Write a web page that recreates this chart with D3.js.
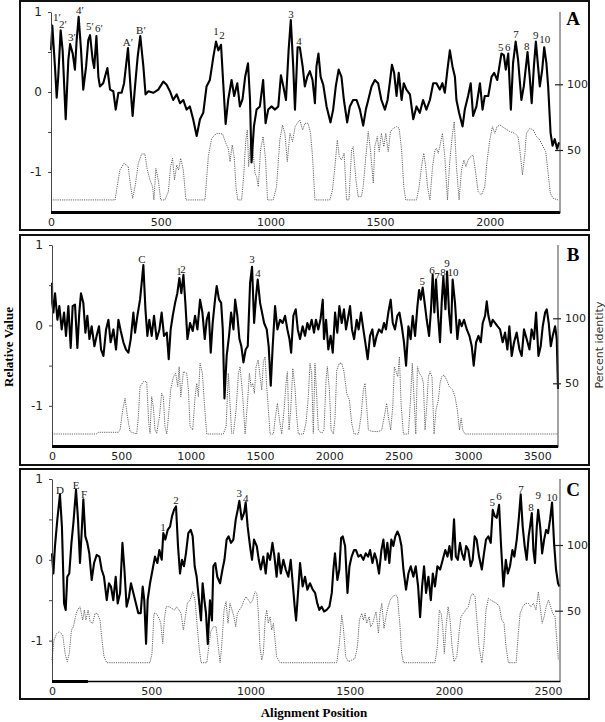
<!DOCTYPE html>
<html>
<head>
<meta charset="utf-8">
<script src="https://cdn.jsdelivr.net/npm/d3@7"></script>
<style>
  body { margin: 0; background: #fff; }
  svg { display: block; }
</style>
</head>
<body>
<div id="chart"></div>
<script>
// relative value (solid) and percent identity (dotted), [alignment position, value]
const relA = [[0,0.52],[6,0.83],[18,0.32],[26,-0.07],[33,0.19],[44,0.77],[53,0.52],[67,-0.34],[79,0.40],[87,0.60],[99,0.48],[109,0.28],[117,0.65],[126,0.94],[137,0.52],[147,0.03],[160,0.32],[170,0.65],[178,0.71],[190,0.40],[197,0.30],[207,0.70],[216,0.19],[223,0.07],[238,0.11],[257,0.30],[269,0.03],[284,0.01],[295,-0.22],[307,-0.01],[322,-0.01],[333,0.11],[351,0.55],[363,0.03],[372,-0.30],[383,0.07],[395,0.44],[407,0.70],[421,0.32],[431,-0.03],[444,0.01],[466,-0.01],[489,0.03],[512,0.13],[527,0.09],[542,0.01],[557,-0.10],[573,-0.03],[588,-0.14],[603,-0.10],[618,-0.22],[633,-0.18],[648,-0.34],[664,-0.55],[679,-0.34],[694,-0.26],[709,0.07],[724,0.15],[740,0.44],[752,0.63],[763,0.52],[775,0.59],[785,0.11],[796,-0.40],[808,-0.09],[823,0.15],[835,-0.05],[849,0.11],[861,-0.18],[873,-0.09],[885,0.19],[898,0.36],[907,-0.09],[914,-0.88],[925,-0.43],[937,-0.22],[952,-0.18],[967,0.15],[978,-0.39],[990,-0.22],[1005,-0.18],[1021,-0.22],[1036,-0.18],[1048,0.21],[1059,0.07],[1071,-0.10],[1083,0.52],[1093,0.90],[1104,0.32],[1112,-0.22],[1124,0.56],[1134,0.56],[1147,0.32],[1157,0.07],[1168,0.19],[1180,0.26],[1192,0.15],[1203,-0.14],[1210,0.32],[1219,0.48],[1229,0.19],[1241,0.09],[1256,-0.18],[1274,-0.38],[1286,-0.22],[1298,0.07],[1311,0.28],[1324,0.19],[1335,-0.10],[1350,-0.38],[1362,-0.18],[1377,-0.10],[1393,-0.10],[1408,-0.22],[1423,-0.42],[1435,-0.22],[1446,-0.10],[1461,0.07],[1476,0.15],[1491,0.11],[1506,-0.10],[1522,-0.22],[1534,-0.10],[1544,0.11],[1554,0.34],[1564,0.24],[1575,-0.05],[1585,0.24],[1598,-0.10],[1608,0.11],[1620,0.03],[1636,-0.03],[1651,-0.34],[1666,-0.18],[1681,-0.26],[1696,-0.10],[1711,-0.22],[1727,-0.10],[1742,0.11],[1757,0.11],[1772,0.03],[1784,0.11],[1795,-0.01],[1807,0.28],[1818,0.52],[1830,0.32],[1841,0.19],[1848,-0.10],[1860,-0.26],[1876,-0.43],[1886,-0.22],[1901,-0.05],[1913,0.11],[1924,-0.30],[1939,-0.18],[1955,0.11],[1967,-0.22],[1977,-0.05],[1993,-0.05],[2008,0.19],[2020,0.24],[2034,0.15],[2046,0.36],[2053,0.48],[2064,0.46],[2073,0.28],[2084,0.48],[2096,-0.22],[2106,0.36],[2118,0.63],[2129,0.40],[2144,-0.10],[2155,0.07],[2172,0.50],[2182,0.19],[2191,-0.14],[2201,0.32],[2210,0.63],[2220,0.32],[2228,0.07],[2239,0.28],[2248,0.56],[2258,0.36],[2266,0.07],[2277,-0.51],[2286,-0.67],[2296,-0.59],[2307,-0.71],[2316,-0.63]]

const pidA = [[0,12],[292,12],[299,19.5],[314,34.8],[333,39.9],[352,37.3],[363,22.1],[372,13.2],[383,22.1],[398,39.9],[413,47],[428,47],[439,34.8],[451,27.2],[463,22.1],[469,12],[478,36],[489,27.2],[500,12],[519,12],[535,18.3],[545,37.3],[554,43.7],[563,27.2],[573,38.6],[582,34.8],[591,43.7],[603,34.8],[615,12],[702,12],[717,44.9],[732,58.9],[755,62.7],[782,62.2],[797,55.1],[808,51.3],[816,41.1],[826,53.8],[835,44.9],[843,22.1],[851,12],[869,12],[879,32.2],[888,57.6],[895,65.2],[901,37.3],[910,57.6],[919,52.5],[930,32.2],[937,29.7],[945,22.1],[955,50],[967,60.2],[978,42.4],[987,12],[1013,12],[1028,22.1],[1043,57.6],[1055,69],[1066,62.7],[1077,41.1],[1089,62.7],[1101,56.3],[1113,67.8],[1127,71.6],[1134,72.8],[1147,65.2],[1157,70.3],[1172,70.3],[1183,62.7],[1192,44.9],[1203,12],[1271,12],[1283,19.5],[1294,37.3],[1305,57.6],[1314,44.9],[1324,42.4],[1336,47.5],[1347,12],[1358,12],[1370,50],[1377,52.5],[1390,27.2],[1400,14.5],[1415,14.5],[1423,22.1],[1435,44.9],[1446,64],[1456,50],[1469,24.6],[1476,52.5],[1487,60.2],[1496,48.7],[1506,62.7],[1517,52.5],[1526,62.7],[1537,48.7],[1547,64],[1560,66.5],[1575,67.8],[1587,66.5],[1598,50],[1608,22.1],[1617,12],[1666,12],[1678,22.1],[1689,37.3],[1699,47.5],[1708,37.3],[1716,22.1],[1727,12],[1739,37.3],[1750,50],[1757,51.3],[1765,47.5],[1772,52.5],[1784,62.7],[1795,44.9],[1807,12],[1818,42.4],[1830,62.7],[1838,71.6],[1848,37.3],[1860,12],[1871,34.8],[1882,42.4],[1891,37.3],[1901,42.4],[1912,44.9],[1924,46.2],[1936,32.2],[1947,18.3],[1962,15.7],[1977,22.1],[1988,42.4],[2000,57.6],[2012,67.8],[2023,62.7],[2033,67.8],[2046,69],[2068,66.5],[2091,64],[2114,62.7],[2129,60.2],[2137,50],[2149,31],[2160,47.5],[2167,62.7],[2182,66.5],[2198,65.2],[2213,60.2],[2228,57.6],[2243,52.5],[2255,48.7],[2266,32.2],[2276,17],[2289,13.2],[2311,12]]

const relB = [[0,0.53],[2,0.28],[10,0.16],[22,0.40],[39,0.07],[53,0.24],[70,-0.05],[87,0.16],[101,-0.13],[118,0.24],[135,-0.28],[149,0.24],[166,0.26],[183,-0.28],[197,0.16],[209,0.40],[226,0.28],[241,-0.09],[255,0.12],[270,-0.17],[286,-0.01],[306,-0.26],[322,-0.13],[339,-0.01],[354,-0.30],[371,-0.38],[390,-0.05],[407,0.07],[423,-0.21],[443,-0.05],[462,-0.30],[479,0.07],[496,-0.07],[515,-0.21],[534,-0.30],[551,-0.34],[568,-0.17],[587,0.16],[599,-0.09],[616,0.12],[635,0.32],[647,0.53],[659,0.75],[674,0.20],[688,-0.13],[702,0.07],[719,-0.13],[736,0.12],[755,-0.17],[775,-0.05],[791,0.16],[808,-0.13],[828,-0.09],[842,-0.42],[856,-0.05],[871,0.12],[888,0.28],[904,0.40],[919,0.59],[933,0.40],[948,0.63],[962,0.28],[977,-0.17],[996,0.03],[1015,-0.07],[1032,0.12],[1049,-0.05],[1068,0.32],[1085,0.16],[1102,-0.17],[1116,0.07],[1131,0.16],[1145,-0.34],[1159,0.03],[1176,0.32],[1188,0.49],[1205,0.32],[1220,0.28],[1232,-0.05],[1244,-0.91],[1260,-0.38],[1277,-0.13],[1292,0.16],[1309,-0.05],[1321,0.32],[1337,0.12],[1352,-0.17],[1366,-0.26],[1381,-0.46],[1397,-0.30],[1412,-0.26],[1429,0.53],[1443,0.73],[1458,0.03],[1472,0.36],[1484,0.57],[1501,0.28],[1515,0.16],[1530,0.03],[1549,-0.05],[1563,-0.26],[1578,-0.75],[1592,-0.26],[1609,0.24],[1626,-0.05],[1645,0.07],[1664,0.03],[1681,0.12],[1698,-0.05],[1713,-0.17],[1725,-0.34],[1741,0.12],[1758,0.20],[1773,-0.05],[1789,-0.17],[1808,-0.01],[1825,-0.13],[1842,0.03],[1856,-0.05],[1873,0.07],[1890,-0.09],[1904,0.07],[1921,-0.05],[1938,0.09],[1953,0.32],[1962,-0.17],[1977,0.07],[1993,-0.30],[2010,-0.13],[2025,-0.34],[2042,0.16],[2058,-0.09],[2073,0.24],[2090,0.03],[2106,0.20],[2121,-0.05],[2138,0.12],[2150,0.24],[2164,-0.05],[2179,-0.17],[2198,0.07],[2212,-0.05],[2229,0.16],[2246,-0.05],[2260,-0.21],[2277,-0.42],[2294,-0.13],[2311,-0.05],[2325,-0.26],[2342,-0.13],[2359,-0.05],[2378,-0.09],[2395,0.03],[2409,-0.05],[2426,0.16],[2443,0.32],[2458,0.03],[2474,-0.05],[2491,0.12],[2506,0.16],[2523,-0.01],[2539,-0.21],[2554,-0.50],[2571,-0.01],[2587,-0.17],[2602,0.12],[2619,-0.13],[2636,0.24],[2648,0.44],[2660,0.32],[2674,0.47],[2688,0.28],[2703,0.07],[2720,-0.13],[2734,0.20],[2746,0.63],[2758,0.16],[2770,0.57],[2785,0.12],[2799,-0.21],[2811,0.28],[2823,0.61],[2838,0.20],[2850,0.67],[2864,0.16],[2878,-0.09],[2890,0.57],[2907,0.28],[2924,-0.17],[2939,0.07],[2955,-0.01],[2972,0.07],[2992,-0.05],[3011,-0.13],[3028,-0.26],[3042,-0.50],[3059,-0.21],[3076,-0.13],[3093,-0.21],[3107,0.03],[3124,0.12],[3136,0.30],[3148,0.12],[3165,-0.01],[3179,0.07],[3196,0.03],[3213,-0.01],[3232,-0.05],[3251,-0.21],[3268,-0.09],[3285,-0.30],[3299,-0.01],[3316,-0.38],[3333,-0.21],[3352,-0.09],[3372,-0.30],[3388,-0.38],[3405,-0.05],[3424,-0.17],[3444,-0.30],[3460,-0.05],[3477,-0.17],[3492,0.16],[3509,-0.38],[3525,-0.26],[3540,-0.01],[3557,0.16],[3569,0.20],[3583,0.03],[3598,-0.26],[3612,-0.13],[3629,-0.01],[3641,-0.17],[3650,-0.79]]

const pidB = [[0,11],[322,11],[334,12.3],[479,12.3],[491,14.1],[510,29.5],[527,38.5],[544,24.4],[563,12.8],[611,11],[623,24.4],[635,47.4],[659,51.3],[683,51.3],[698,19.2],[707,11.5],[719,39.7],[731,32.1],[743,14.1],[755,11.5],[775,24.4],[791,42.3],[803,39.7],[815,16.7],[828,11],[840,24.4],[856,44.9],[876,55.1],[892,57.7],[907,47.4],[917,62.8],[929,39.7],[948,59],[972,57.7],[984,44.9],[996,16.7],[1015,14.1],[1032,39.7],[1044,50],[1056,39.7],[1068,65.4],[1085,57.7],[1099,34.6],[1116,11],[1236,11],[1256,16.7],[1272,57.7],[1284,34.6],[1296,11.5],[1309,11.5],[1328,29.5],[1345,57.7],[1357,62.8],[1376,39.7],[1393,11],[1410,34.6],[1424,57.7],[1436,47.4],[1448,50],[1460,42.3],[1472,62.8],[1487,68],[1501,55.1],[1513,44.9],[1525,66.7],[1537,70.5],[1549,47.4],[1561,29.5],[1573,11],[1597,11],[1612,24.4],[1626,34.6],[1641,21.8],[1657,11],[1674,29.5],[1688,50],[1698,59],[1710,14.1],[1722,29.5],[1737,61.5],[1753,46.2],[1765,24.4],[1777,11],[1813,11],[1832,19.2],[1849,39.7],[1861,65.4],[1873,57.7],[1885,11.5],[1897,65.4],[1909,41],[1921,14.1],[1945,11.5],[1962,14.1],[1977,52.6],[1986,62.8],[2001,44.9],[2013,14.1],[2030,11],[2042,24.4],[2054,60.3],[2073,65.4],[2090,65.4],[2106,59],[2126,42.3],[2145,37.2],[2162,19.2],[2179,11],[2210,11],[2229,24.4],[2246,44.9],[2258,50],[2270,32.1],[2282,14.1],[2306,13.1],[2354,12.8],[2378,14.1],[2397,24.4],[2414,34.6],[2426,24.4],[2443,14.1],[2458,32.1],[2470,62.8],[2482,59],[2494,55.1],[2506,70.5],[2518,34.6],[2535,11],[2571,11],[2587,39.7],[2599,65.4],[2611,39.7],[2624,11],[2636,62.8],[2650,57.7],[2667,55.1],[2679,50],[2691,14.1],[2703,32.1],[2715,55.1],[2727,59],[2741,55.1],[2756,11],[2770,29.5],[2787,37.2],[2799,50],[2811,55.1],[2828,56.4],[2847,52.6],[2866,47.4],[2890,44.9],[2907,39.7],[2924,29.5],[2939,14.1],[2951,23.1],[2963,14.1],[2979,11],[3650,11]]

const relC = [[0,0.08],[2,0],[7,-0.17],[15,0.17],[27,0.50],[40,0.81],[50,0.41],[61,-0.54],[69,-0.62],[77,-0.21],[87,-0.17],[98,0.21],[108,0.46],[121,0.87],[131,0.50],[141,-0.04],[151,0.41],[158,0.75],[168,0.29],[178,0.21],[188,0.08],[200,-0.25],[212,-0.04],[225,0.06],[239,0.04],[250,-0.12],[262,-0.21],[276,-0.50],[287,-0.29],[297,-0.33],[309,-0.50],[321,-0.21],[331,-0.54],[343,-0.41],[355,0.21],[365,-0.12],[376,-0.58],[388,-0.46],[398,-0.29],[410,-0.41],[423,-0.54],[435,-0.66],[447,-0.66],[457,-0.33],[465,-0.50],[474,-1.04],[482,-0.50],[494,-0.29],[507,-0.12],[519,0.04],[531,-0.04],[541,0.12],[553,0],[561,0.33],[571,0.25],[583,0.37],[595,0.41],[605,0.54],[615,0.62],[625,0.66],[635,0.17],[645,-0.17],[655,0],[665,-0.08],[675,0.08],[687,0.33],[699,0.37],[709,0.29],[719,-0.08],[729,-0.21],[739,-0.46],[751,-0.75],[759,-0.29],[768,-0.50],[776,-0.66],[785,-1.04],[796,-0.50],[806,-0.75],[813,-0.08],[823,-0.04],[833,-0.21],[847,-0.29],[859,-0.12],[869,0],[880,0.25],[890,0.29],[902,0.21],[914,0.25],[926,0.50],[936,0.62],[944,0.73],[956,0.50],[968,0.58],[976,0.71],[986,0.41],[998,0.17],[1008,0],[1018,0.25],[1032,0.17],[1042,0],[1052,-0.12],[1065,0.04],[1077,-0.17],[1087,0.08],[1099,0],[1111,0.21],[1121,0.04],[1132,-0.21],[1142,0.08],[1153,-0.17],[1166,0],[1178,-0.12],[1191,-0.21],[1203,0],[1213,-0.29],[1223,-0.58],[1230,-0.75],[1242,-0.33],[1250,-0.04],[1263,-0.33],[1275,-0.21],[1287,-0.37],[1300,-0.29],[1314,-0.37],[1326,-0.41],[1337,-0.54],[1347,-0.62],[1359,-0.58],[1371,-0.64],[1384,-0.62],[1398,-0.58],[1410,-0.41],[1418,-0.12],[1426,0.08],[1438,-0.25],[1448,-0.12],[1457,0.27],[1465,0.29],[1477,0.17],[1489,-0.41],[1499,-0.08],[1510,0.04],[1522,0.12],[1532,0.12],[1544,0.04],[1556,0.06],[1569,0],[1581,0.08],[1593,0.04],[1603,0.12],[1615,-0.04],[1626,0.08],[1636,0],[1648,-0.17],[1660,0.12],[1670,0.25],[1680,0],[1690,0.21],[1700,-0.04],[1710,0.25],[1720,0.17],[1730,0.29],[1741,0.35],[1751,0.29],[1761,0.17],[1771,-0.12],[1784,-0.37],[1796,-0.17],[1808,-0.08],[1821,-0.21],[1833,-0.08],[1845,-0.33],[1855,-0.71],[1865,-0.33],[1875,-0.08],[1885,-0.41],[1897,-0.21],[1909,-0.50],[1919,-0.17],[1930,-0.33],[1942,-0.08],[1956,-0.12],[1969,0],[1982,0.12],[1993,0.04],[2003,0.17],[2014,0],[2026,0.50],[2035,0.04],[2045,0],[2056,0.21],[2066,0.08],[2077,0],[2087,0.17],[2098,0.12],[2110,-0.08],[2120,0],[2130,0.29],[2140,0.25],[2152,0.04],[2166,-0.12],[2177,0.08],[2187,0.25],[2199,0.29],[2211,0.21],[2221,0.62],[2231,0.54],[2241,0.52],[2253,0.68],[2263,0.17],[2275,-0.33],[2287,0],[2297,-0.17],[2308,-0.08],[2320,0.12],[2330,0.04],[2342,0.25],[2352,0.50],[2362,0.81],[2372,0.41],[2382,0.17],[2392,0],[2402,0.29],[2409,0.41],[2418,0.58],[2426,0.12],[2434,-0.04],[2443,0.41],[2450,0.62],[2460,0.41],[2470,0.08],[2480,0.25],[2490,0.37],[2500,0.33],[2510,0.50],[2520,0.71],[2530,0.21],[2540,-0.12],[2550,-0.29],[2557,-0.33]]

const pidC = [[0,12.4],[10,27.7],[24,32.7],[37,34],[54,31.5],[66,17.5],[77,11.2],[87,17.5],[98,35.3],[108,37.8],[118,45.4],[128,50.5],[141,53],[155,42.9],[163,50.5],[171,42.9],[182,50.5],[192,41.6],[205,40.4],[217,48],[229,48],[242,42.9],[252,27.7],[262,15],[276,10.4],[494,10.4],[504,17.5],[514,48],[524,48],[536,45.4],[548,40.4],[558,25.1],[566,42.9],[575,53],[591,53],[603,51.8],[617,50.5],[628,53],[640,50.5],[650,48],[662,35.3],[672,45.4],[682,55.6],[696,58.1],[709,64.5],[721,58.1],[729,42.9],[741,22.6],[751,10.4],[780,10.4],[790,22.6],[800,34],[813,37.8],[827,37.8],[838,22.6],[847,10.4],[855,22.6],[867,50.5],[877,56.9],[887,40.4],[897,55.6],[907,50.5],[917,45.4],[926,37.8],[934,48],[944,50.5],[956,53],[968,58.1],[978,60.7],[990,58.1],[1001,55.6],[1011,58.1],[1023,64.5],[1032,63.2],[1040,48],[1048,22.6],[1057,12.4],[1065,17.5],[1074,42.9],[1082,50.5],[1090,40.4],[1099,45.4],[1107,35.3],[1116,40.4],[1124,27.7],[1132,15],[1149,10.4],[1435,10.4],[1448,25.1],[1460,46.7],[1468,37.8],[1480,15],[1494,11.2],[1510,12.4],[1527,13.7],[1539,22.6],[1549,42.9],[1561,48],[1569,42.9],[1578,48],[1586,40.4],[1598,45.4],[1606,37.8],[1616,40.4],[1625,45.4],[1633,49.2],[1645,32.7],[1653,48],[1662,55.6],[1673,36.5],[1683,45.4],[1694,53],[1704,58.1],[1717,60.7],[1729,61.9],[1741,60.7],[1754,37.8],[1762,17.5],[1771,10.4],[1930,10.4],[1942,22.6],[1952,50.5],[1961,48],[1969,37.8],[1977,17.5],[1986,37.8],[1996,53],[2006,42.9],[2016,22.6],[2026,11.2],[2040,15],[2051,32.7],[2061,45.4],[2073,48],[2085,50.5],[2098,53],[2110,60.7],[2120,63.2],[2132,60.7],[2140,45.4],[2152,22.6],[2166,10.4],[2177,25.1],[2187,50.5],[2199,59.4],[2211,58.1],[2224,56.9],[2241,55.6],[2255,53],[2266,42.9],[2278,40.4],[2288,22.6],[2300,10.4],[2339,10.4],[2350,32.7],[2359,48],[2372,53],[2386,55.6],[2401,55.6],[2413,53],[2426,55.6],[2439,50.5],[2451,64.5],[2460,53],[2470,40.4],[2480,45.4],[2490,53],[2502,58.1],[2513,53],[2523,48],[2535,45.4],[2544,27.7],[2552,12.4]]

// peak labels: [text, position, relative value]
const labelsA = [['1′',27,0.89],['2′',55,0.80],['3′',96,0.64],['4′',132,0.975],['5′',178,0.775],['6′',219,0.75],['A′',351,0.575],['B′',410,0.725],['1',752,0.71],['2',779,0.66],['3',1094,0.925],['4',1130,0.59],['5',2050,0.51],['6',2082,0.51],['7',2119,0.675],['8',2169,0.525],['9',2210,0.66],['10',2251,0.61]]
const labelsB = [['C',649,0.78],['1',916,0.63],['2',945,0.65],['3',1443,0.78],['4',1486,0.60],['5',2670,0.50],['6',2742,0.64],['7',2778,0.56],['8',2821,0.61],['9',2850,0.73],['10',2893,0.61]]
const labelsC = [['D',40,0.81],['E',121,0.88],['F',161,0.76],['1',559,0.36],['2',625,0.69],['3',943,0.78],['4',976,0.72],['5',2218,0.67],['6',2253,0.74],['7',2364,0.83],['8',2414,0.60],['9',2450,0.75],['10',2520,0.73]]

const xTicksA = [0, 500, 1000, 1500, 2000]
const xTicksB = [0, 500, 1000, 1500, 2000, 2500, 3000, 3500]
const xTicksC = [0, 500, 1000, 1500, 2000, 2500]
const relTicks = [1, 0.5, 0, -0.5, -1]
const pidTicks = [50, 100]

const panels = [
  {name: 'A', rel: relA, pid: pidA, labels: labelsA, xTicks: xTicksA, xMax: 2320,
   box: [20, 1, 569, 229], x0: 51, x1: 560, yTop: 12, yBot: 212, y100: 84.3, y50: 150, thick: 2320, letterY: 25},
  {name: 'B', rel: relB, pid: pidB, labels: labelsB, xTicks: xTicksB, xMax: 3650,
   box: [20, 235, 569, 230], x0: 52, x1: 558, yTop: 245, yBot: 446, y100: 318.3, y50: 383.3, thick: 3650, letterY: 261},
  {name: 'C', rel: relC, pid: pidC, labels: labelsC, xTicks: xTicksC, xMax: 2560,
   box: [20, 469, 569, 230], x0: 52, x1: 560, yTop: 479, yBot: 681, y100: 545, y50: 610.7, thick: 181, letterY: 496}
]

function draw_panel(svg, p) {
  const g = svg.append('g').attr('class', 'panel')

  g.append('rect')
    .attr('x', p.box[0]).attr('y', p.box[1])
    .attr('width', p.box[2]).attr('height', p.box[3])
    .style('fill', 'none').style('stroke', '#111').style('stroke-width', 2)

  const x = d3.scaleLinear().domain([0, p.xMax]).range([p.x0, p.x1])
  const y = d3.scaleLinear().domain([-1.5, 1]).range([p.yBot, p.yTop])
  const yr = d3.scaleLinear().domain([50, 100]).range([p.y50, p.y100])

  // dotted percent identity
  g.append('path')
    .datum(p.pid)
    .attr('d', d3.line().x(d => x(d[0])).y(d => yr(d[1])))
    .style('fill', 'none').style('stroke', '#666')
    .style('stroke-width', 1).style('stroke-dasharray', '1.2,1')

  // relative value
  g.append('path')
    .datum(p.rel)
    .attr('d', d3.line().x(d => x(d[0])).y(d => y(d[1])))
    .style('fill', 'none').style('stroke', '#000')
    .style('stroke-width', 2.1).style('stroke-linejoin', 'round')

  // left axis
  const left = g.append('g')
    .attr('transform', `translate(${p.x0},0)`)
    .call(d3.axisLeft(y).tickValues(relTicks).tickSize(3).tickSizeOuter(0).tickPadding(6)
      .tickFormat(d => Number.isInteger(d) ? String(d) : ''))
  left.select('.domain').style('stroke', '#444')
  left.selectAll('line').style('stroke', '#444')
  left.selectAll('text').style('font-family', 'DejaVu Sans').style('font-size', '12px').style('fill', '#222')

  // bottom axis
  const bottom = g.append('g')
    .attr('transform', `translate(0,${p.yBot})`)
    .call(d3.axisBottom(x).tickValues(p.xTicks).tickSize(0).tickSizeOuter(0).tickPadding(6)
      .tickFormat(d => String(d)))
  bottom.select('.domain').style('stroke', '#000').style('stroke-width', 1.5)
  bottom.selectAll('text').style('font-family', 'DejaVu Sans').style('font-size', '11px').style('fill', '#222')
  g.append('line')
    .attr('x1', x(0)).attr('x2', x(p.thick))
    .attr('y1', p.yBot + 0.5).attr('y2', p.yBot + 0.5)
    .style('stroke', '#000').style('stroke-width', 3)

  // right axis
  g.append('line')
    .attr('x1', p.x1).attr('x2', p.x1)
    .attr('y1', p.yTop).attr('y2', p.yBot)
    .style('stroke', '#444').style('stroke-width', 1)
  const right = g.append('g')
    .attr('transform', `translate(${p.x1},0)`)
    .call(d3.axisRight(yr).tickValues(pidTicks).tickSize(3).tickPadding(4))
  right.select('.domain').remove()
  right.selectAll('.tick line').attr('x1', -5).style('stroke', '#222').style('stroke-width', 1.2)
  right.selectAll('text').style('font-family', 'DejaVu Sans').style('font-size', '11px').style('fill', '#222')

  // peak labels
  g.selectAll('text.peak')
    .data(p.labels)
    .enter().append('text')
    .attr('class', 'peak')
    .attr('x', d => x(d[1]))
    .attr('y', d => y(d[2]))
    .attr('text-anchor', 'middle')
    .style('font-family', 'Liberation Serif')
    .style('font-size', '11px')
    .style('fill', '#222')
    .text(d => d[0])

  g.append('text')
    .attr('x', 573).attr('y', p.letterY)
    .attr('text-anchor', 'middle')
    .style('font-family', 'Liberation Serif').style('font-weight', 'bold').style('font-size', '19px')
    .text(p.name)
}

function main() {
  const svg = d3.select('#chart').append('svg')
    .attr('width', 605).attr('height', 722)

  svg.append('rect').attr('width', 605).attr('height', 722).style('fill', '#fff')

  panels.forEach(p => draw_panel(svg, p))

  svg.append('text')
    .attr('transform', 'translate(13,347) rotate(-90)')
    .attr('text-anchor', 'middle')
    .style('font-family', 'Liberation Serif').style('font-weight', 'bold').style('font-size', '13px')
    .text('Relative Value')

  svg.append('text')
    .attr('transform', 'translate(603,345) rotate(-90)')
    .attr('text-anchor', 'middle')
    .style('font-family', 'DejaVu Sans').style('font-size', '11px').style('fill', '#333')
    .text('Percent identity')

  svg.append('text')
    .attr('x', 314).attr('y', 717)
    .attr('text-anchor', 'middle')
    .style('font-family', 'Liberation Serif').style('font-weight', 'bold').style('font-size', '13px')
    .text('Alignment Position')
}

main()
</script>
</body>
</html>
